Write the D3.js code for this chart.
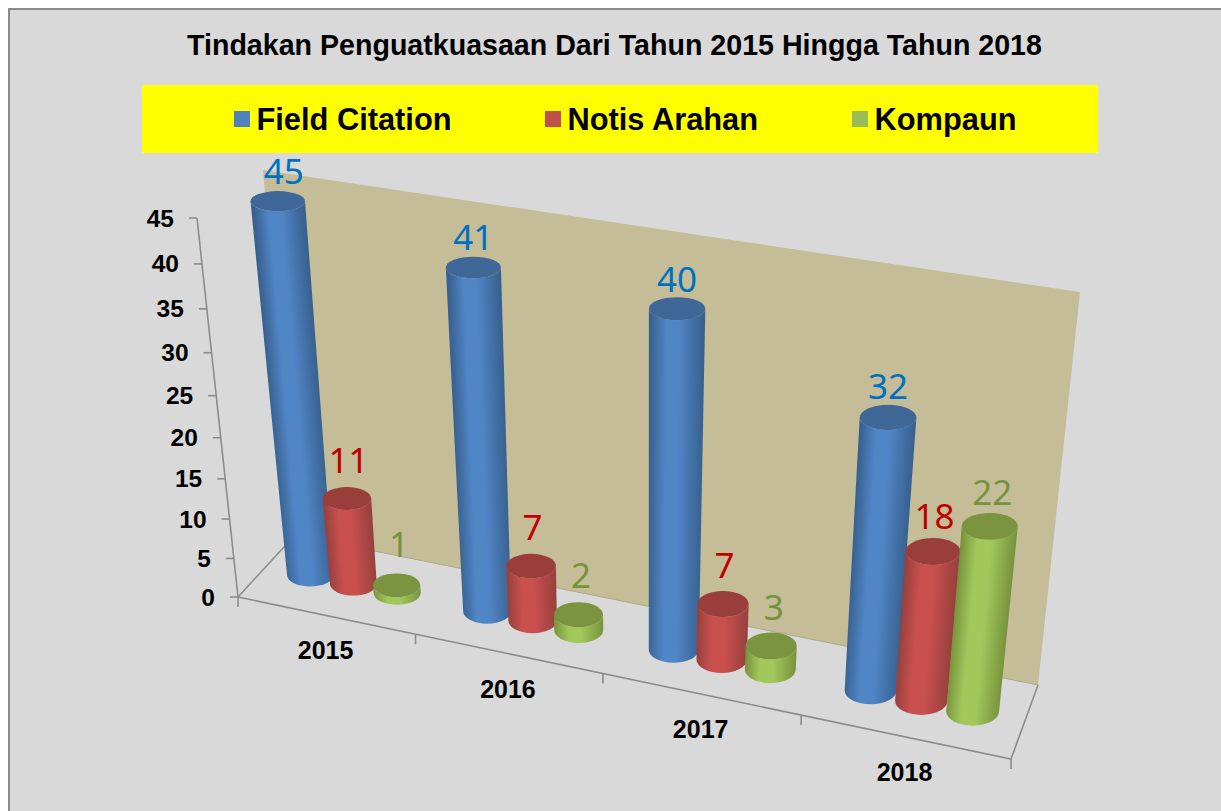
<!DOCTYPE html>
<html><head><meta charset="utf-8">
<script src="https://cdn.jsdelivr.net/npm/d3@7/dist/d3.min.js"></script>
<style>html,body{margin:0;padding:0;background:#fff}svg{display:block}</style>
</head><body><svg id="c" width="1221" height="811"></svg>
<script>
const years = ["2015","2016","2017","2018"];
const seriesNames = ["Field Citation","Notis Arahan","Kompaun"];
const fieldCitation = [45,41,40,32];
const notisArahan = [11,7,7,18];
const kompaun = [1,2,3,22];
const valueTicks = [0,5,10,15,20,25,30,35,40,45];
const titleText = "Tindakan Penguatkuasaan Dari Tahun 2015 Hingga Tahun 2018";
const seriesValues = [fieldCitation,notisArahan,kompaun];

const palette = {
  "Field Citation":{edge:"#38618f",mid:"#5085c6",top:"#3f6797",label:"#0070c0",key:"#4f81bd",nudge:0},
  "Notis Arahan":{edge:"#96403d",mid:"#c9504e",top:"#9a3e3c",label:"#c00000",key:"#c0504d",nudge:1.5},
  "Kompaun":{edge:"#77933c",mid:"#a2c85c",top:"#7a9440",label:"#76933c",key:"#9bbb59",nudge:2.5}
};

// Frame of the 3D box: [front plane corners, back wall corners]
const frontQuad = [[238,597],[1011,759],[1055,349],[197,218]];
const backQuad  = [[295,535],[1038,685],[1080,292],[263,170]];

function homography(q){
  const [[x0,y0],[x1,y1],[x2,y2],[x3,y3]] = q;
  const dx1=x1-x2,dx2=x3-x2,sx=x0-x1+x2-x3,dy1=y1-y2,dy2=y3-y2,sy=y0-y1+y2-y3;
  const det=dx1*dy2-dx2*dy1;
  const g=(sx*dy2-dx2*sy)/det,h=(dx1*sy-sx*dy1)/det;
  const a=x1-x0+g*x1,b=x3-x0+h*x3,c=x0,d=y1-y0+g*y1,e=y3-y0+h*y3,f=y0;
  return (s,t)=>{const w=g*s+h*t+1;return [(a*s+b*t+c)/w,(d*s+e*t+f)/w];};
}
const x = d3.scaleBand().domain(years).range([0,1]);
const inner = d3.scalePoint().domain(seriesNames).range([0.255,0.7525]);
const y = d3.scaleLinear().domain([0,45]).range([0,1]);
const planeAt = z => homography(frontQuad.map((p,i)=>d3.interpolateArray(p,backQuad[i])(z)));
const front = planeAt(0), back = planeAt(1), mid = planeAt(0.5);
const sOf = (yr,name) => x(yr)+x.bandwidth()*inner(name);
const radiusBottom = d3.scaleLinear().domain([0,1]).range([0.033,0.031]);
const radiusTop = d3.scaleLinear().domain([0,1]).range([0.036,0.0315]);
const ellipseRatio = d3.scaleLinear().domain([200,700]).range([0.37,0.54]);
const labelGap = (py,s) => 8 + 0.025*(py-200) - 9*s;

const svg = d3.select("#c");
const defs = svg.append("defs");
svg.append("rect").attr("x",9).attr("y",9).attr("width",1300).attr("height",900)
  .attr("fill","#d9d9d9").attr("stroke","#808080").attr("stroke-width",1.8);

// title
svg.append("text").attr("x",614.5).attr("y",55).attr("text-anchor","middle")
  .attr("font-family","Liberation Sans").attr("font-weight","bold").attr("font-size",28.6).text(titleText);

// back wall
const line = d3.line();
svg.append("path").attr("d",line(backQuad)+"Z").attr("fill","#c4bd97");

// floor + axes lines
const axisColor="#8c8c8c";
svg.append("path").attr("fill","none").attr("stroke",axisColor).attr("stroke-width",1.6)
  .attr("d",line([back(0,0),front(0,0),front(1,0),back(1,0)]));
svg.append("path").attr("fill","none").attr("stroke","#b0aa88").attr("stroke-width",1)
  .attr("d",line([back(0,0),back(1,0)]));
svg.append("path").attr("fill","none").attr("stroke",axisColor).attr("stroke-width",1.6)
  .attr("d",line([front(0,0),front(0,1)]));

// value ticks
const vt = svg.append("g");
valueTicks.forEach(v=>{
  const p=front(0,y(v));
  vt.append("line").attr("x1",p[0]-8).attr("x2",p[0]).attr("y1",p[1]).attr("y2",p[1])
    .attr("stroke",axisColor).attr("stroke-width",1.6);
  vt.append("text").attr("x",p[0]-23).attr("y",p[1]+8.5).attr("text-anchor","end")
    .attr("font-family","Liberation Sans").attr("font-weight","bold").attr("font-size",24.5).text(v);
});
// category ticks
const ct = svg.append("g");
[...years.map(d=>x(d)),1].forEach(s=>{
  const p=front(s,0);
  ct.append("line").attr("x1",p[0]).attr("x2",p[0]).attr("y1",p[1]).attr("y2",p[1]+10)
    .attr("stroke",axisColor).attr("stroke-width",1.6);
});
years.forEach(d=>{
  const p=front(x(d)+x.bandwidth()/2,0);
  ct.append("text").attr("x",p[0]).attr("y",p[1]+44).attr("text-anchor","middle")
    .attr("font-family","Liberation Sans").attr("font-weight","bold").attr("font-size",25).text(d);
});

// cylinders
let gid=0;
years.forEach((yr,i)=>{
  seriesNames.forEach((name,k)=>{
    const val=seriesValues[k][i], col=palette[name], s=sOf(yr,name), t=y(val);
    const rb=radiusBottom(s), rt=rb+(radiusTop(s)-rb)*t;
    const b=mid(s,0), tp=mid(s,t);
    const bl=mid(s-rb,0), br=mid(s+rb,0), tl=mid(s-rt,t), tr=mid(s+rt,t);
    const brx=Math.hypot(br[0]-bl[0],br[1]-bl[1])/2, trx=Math.hypot(tr[0]-tl[0],tr[1]-tl[1])/2;
    const bry=brx*ellipseRatio(b[1]), try_=trx*ellipseRatio(tp[1]);
    const id="g"+(gid++);
    const ax=tp[0]-b[0], ay=tp[1]-b[1], al=Math.hypot(ax,ay)||1;
    const nx=-ay/al, ny=ax/al;
    const mx=(b[0]+tp[0])/2,my=(b[1]+tp[1])/2,mr=(brx+trx)/2;
    const sgn=nx<0?-1:1;
    const g=defs.append("linearGradient").attr("id",id).attr("gradientUnits","userSpaceOnUse")
      .attr("x1",mx-sgn*nx*mr).attr("y1",my-sgn*ny*mr).attr("x2",mx+sgn*nx*mr).attr("y2",my+sgn*ny*mr);
    [[0,col.edge],[0.3,col.mid],[0.55,col.mid],[1,col.edge]].forEach(([o,c])=>
      g.append("stop").attr("offset",o).attr("stop-color",c));
    const L=b[0]-brx,R=b[0]+brx,TL=tp[0]-trx,TR=tp[0]+trx;
    svg.append("path").attr("fill",`url(#${id})`)
      .attr("d",`M${TL},${tp[1]}L${L},${b[1]}A${brx},${bry} 0 0 0 ${R},${b[1]}L${TR},${tp[1]}A${trx},${try_} 0 0 1 ${TL},${tp[1]}Z`);
    svg.append("ellipse").attr("cx",tp[0]).attr("cy",tp[1]).attr("rx",trx).attr("ry",try_).attr("fill",col.top);
    const nudge = col.nudge + (i===0&&k===0?6:0);
    svg.append("text").attr("x",tp[0]+nudge).attr("y",tp[1]-try_-labelGap(tp[1],s)).attr("text-anchor","middle")
      .attr("font-family","Noto Sans").attr("font-size",35).attr("fill",col.label).text(val);
  });
});

// legend
svg.append("rect").attr("x",142).attr("y",85).attr("width",956).attr("height",68).attr("fill","#ffff00");
const legendX = d3.scaleOrdinal().domain(seriesNames).range([234,545,852]);
seriesNames.forEach(name=>{
  svg.append("rect").attr("x",legendX(name)).attr("y",111).attr("width",16).attr("height",16).attr("fill",palette[name].key);
  svg.append("text").attr("x",legendX(name)+22.5).attr("y",130)
    .attr("font-family","Liberation Sans").attr("font-weight","bold").attr("font-size",30.8).text(name);
});
</script></body></html>
